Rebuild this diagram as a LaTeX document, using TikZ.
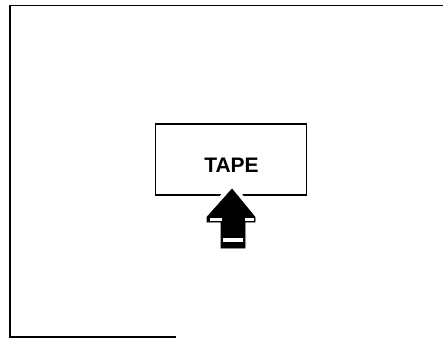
\documentclass[tikz,border=0pt]{standalone}
\usepackage{fontspec}
\setsansfont{Liberation Sans}
\usepackage{tikz}
\usetikzlibrary{positioning}

\begin{document}
\begin{tikzpicture}[x=1pt, y=-1pt, line join=miter]
    \useasboundingbox (0,0) rectangle (443,339);
    % frame
    \coordinate (frametr) at (443,5.5);
    \coordinate (frametl) at (10,5.5);
    \coordinate (framebl) at (10,337);
    \coordinate (framebr) at (176,337);
    \draw [line width=1.6pt] (frametr) -- (frametl) -- (framebl) -- (framebr);

    \node [rectangle, draw, line width=1.3pt, minimum width=151pt, minimum height=71pt] (tape) at (231,159.5) {};
    \node [font=\sffamily\bfseries\fontsize{21}{21}\selectfont, inner sep=0pt] (label) at (231.5,165) {TAPE};

    % arrow pointing up into the box
    \coordinate (tip) at (232,189);
    \filldraw [draw=white, line width=9pt] (tip) -- ++(23,28) -- ++(0,5) -- ++(-10,0) -- ++(0,26) -- ++(-24,0) -- ++(0,-26) -- ++(-14,0) -- ++(0,-5) -- cycle;
    \filldraw [black, line width=0.6pt] (tip) -- ++(23,28) -- ++(0,5) -- ++(-10,0) -- ++(0,26) -- ++(-24,0) -- ++(0,-26) -- ++(-14,0) -- ++(0,-5) -- cycle;
    \fill [white] (210,217.5) rectangle (221.5,221);
    \fill [white] (245,217.5) rectangle (254,221);
    \fill [white] (223,238) rectangle (242.5,241.5);
\end{tikzpicture}
\end{document}
